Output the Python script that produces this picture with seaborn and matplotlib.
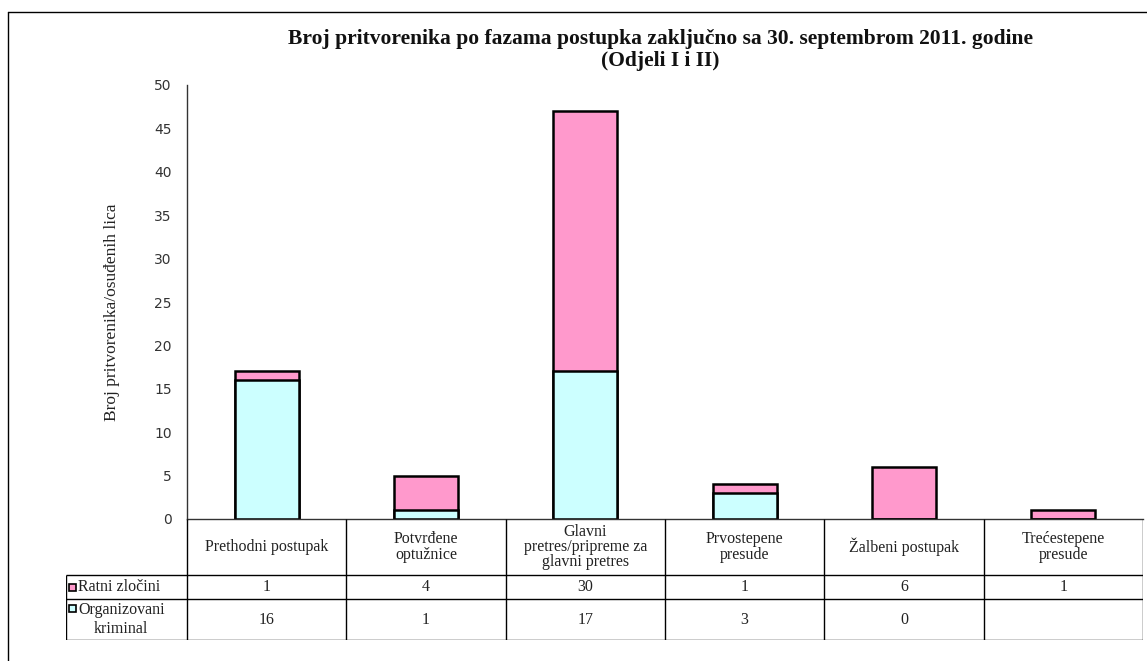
import numpy as np
import pandas as pd
import seaborn as sns
import matplotlib.pyplot as plt
from matplotlib.lines import Line2D
from matplotlib.patches import Rectangle

# --------------------------------------------------------------------
# Podaci
# --------------------------------------------------------------------
faze = [
    "Prethodni postupak",
    "Potvrđene\noptužnice",
    "Glavni\npretres/pripreme za\nglavni pretres",
    "Prvostepene\npresude",
    "Žalbeni postupak",
    "Trećestepene\npresude",
]
ratni_zlocini = [1, 4, 30, 1, 6, 1]
organizovani_kriminal = [16, 1, 17, 3, 0, np.nan]

serije = ["Ratni zločini", "Organizovani\nkriminal"]
boje = ["#FF99CC", "#CCFFFF"]

naslov = "Broj pritvorenika po fazama postupka zaključno sa 30. septembrom 2011. godine"
podnaslov = "(Odjeli I i II)"
y_oznaka = "Broj pritvorenika/osuđenih lica"

df = pd.DataFrame({
    "faza": faze,
    "ratni": ratni_zlocini,
    "org": organizovani_kriminal,
})
df["org0"] = df["org"].fillna(0)
df["ukupno"] = df["ratni"] + df["org0"]

# --------------------------------------------------------------------
# Slika
# --------------------------------------------------------------------
sns.set_theme(style="white")
plt.rcParams["font.family"] = ["Liberation Serif", "DejaVu Serif"]

W, H = 1147, 661
fig = plt.figure(figsize=(W / 100, H / 100), dpi=100)


def fx(px):
    return px / W


def fy(py):
    return 1 - py / H


ax = fig.add_axes([fx(187), fy(519), fx(1143) - fx(187), fy(85) - fy(519)])

# Naslagani stupci: ukupno (roza) pa organizovani kriminal (cijan) preko
sns.barplot(data=df, x="faza", y="ukupno", color=boje[0], saturation=1,
            width=0.4, edgecolor="black", linewidth=1.8, ax=ax)
sns.barplot(data=df, x="faza", y="org0", color=boje[1], saturation=1,
            width=0.4, edgecolor="black", linewidth=1.8, ax=ax)

ax.set_xlim(-0.5, len(faze) - 0.5)
ax.set_ylim(0, 50)
ax.set_yticks(range(0, 51, 5))
ax.set_xticks([])
ax.set_xlabel("")
ax.tick_params(axis="y", direction="out", length=5, width=1, color="#333333",
               labelsize=10, pad=6, labelcolor="#333333")
for lab in ax.get_yticklabels():
    lab.set_family("DejaVu Sans")
for side in ["top", "right"]:
    ax.spines[side].set_visible(False)
for side in ["left", "bottom"]:
    ax.spines[side].set_color("#333333")
    ax.spines[side].set_linewidth(1)

ax.set_ylabel(y_oznaka, fontsize=12.5, color="#222222")
ax.yaxis.set_label_coords((120 - 187) / 956, (519 - 312) / 434)

# --------------------------------------------------------------------
# Tabela s podacima ispod grafa
# --------------------------------------------------------------------
tax = fig.add_axes([fx(66), fy(640), fx(1143) - fx(66), fy(519) - fy(640)])
jed = (1143 - 187) / len(faze)
lijevo = -0.5 - (187 - 66) / jed
desno = len(faze) - 0.5
tax.set_xlim(lijevo, desno)
tax.set_ylim(121, 0)
tax.axis("off")

lk = dict(color="black", linewidth=1, solid_capstyle="butt")
for k in range(len(faze) + 1):
    tax.plot([-0.5 + k, -0.5 + k], [0, 121], **lk)
tax.plot([lijevo, lijevo], [56, 121], **lk)
for yy in [56, 80, 121]:
    tax.plot([lijevo, desno], [yy, yy], **lk)

for i, f in enumerate(faze):
    tax.text(i, 28, f, ha="center", va="center", fontsize=11.5,
             linespacing=0.95, color="#222222")
    tax.text(i, 68, f"{ratni_zlocini[i]:g}", ha="center", va="center",
             fontsize=11.5, color="#222222")
    if not np.isnan(organizovani_kriminal[i]):
        tax.text(i, 100.5, f"{organizovani_kriminal[i]:g}", ha="center",
                 va="center", fontsize=11.5, color="#222222")

# Legenda u prvoj koloni
x_kv = lijevo + (69 - 66) / jed
x_tx = lijevo + (78 - 66) / jed
for y_kv, y_tx, ser, boja in zip([68, 89], [68, 100.5], serije, boje):
    tax.add_patch(Rectangle((x_kv, y_kv - 3.5), 7 / jed, 7, facecolor=boja,
                            edgecolor="black", linewidth=1.2))
    tax.text(x_tx, y_tx, ser, ha="left", va="center", fontsize=11.5,
             multialignment="center", linespacing=1.25, color="#222222")

# --------------------------------------------------------------------
# Naslov i okvir
# --------------------------------------------------------------------
fig.text(fx(660), fy(39), naslov, ha="center", va="center", fontsize=15.5,
         fontweight="bold", color="#111111")
fig.text(fx(660), fy(61), podnaslov, ha="center", va="center", fontsize=15.5,
         fontweight="bold", color="#111111")

fig.add_artist(Line2D([fx(8), fx(8)], [fy(12), 0], color="black", linewidth=1))
fig.add_artist(Line2D([fx(8), 1], [fy(12), fy(12)], color="black", linewidth=1))

fig.savefig("out.png", dpi=100)
plt.close(fig)
